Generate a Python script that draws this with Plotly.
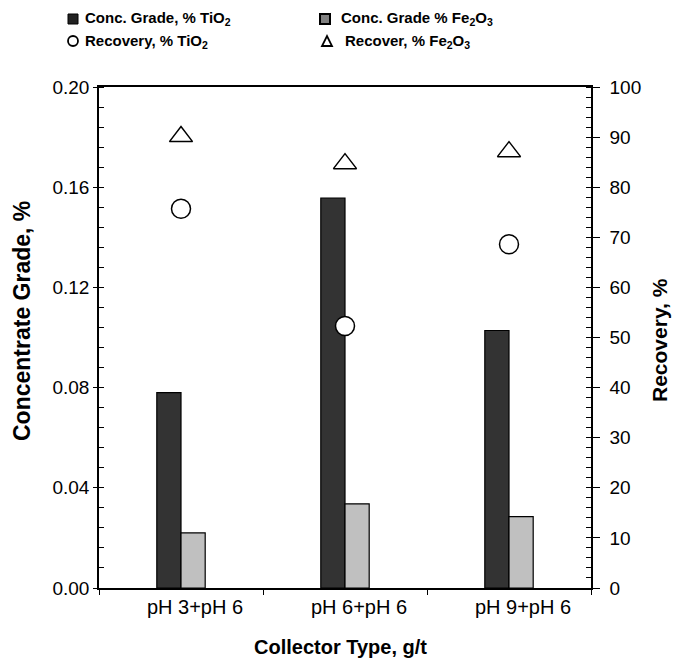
import plotly.graph_objects as go

categories = ["pH 3+pH 6", "pH 6+pH 6", "pH 9+pH 6"]
grade_tio2 = [0.078, 0.1556, 0.1028]
grade_fe2o3 = [0.022, 0.0336, 0.0285]
recovery_tio2 = [75.7, 52.3, 68.6]
recovery_fe2o3 = [90.1, 84.7, 87.1]
left_ticks = [0.00, 0.04, 0.08, 0.12, 0.16, 0.20]
right_ticks = list(range(0, 101, 10))

W, H = 674, 670
L, R, T, B = 99, 83, 87, 82
PW, PH = W - L - R, H - T - B
FONT = "Arial, Liberation Sans, sans-serif"

def px(x):
    return (x - L) / PW

def py(y):
    return (H - B - y) / PH

fig = go.Figure()
fig.add_trace(go.Bar(x=categories, y=grade_tio2, name="Conc. Grade, % TiO2",
                     marker=dict(color="#333333", line=dict(color="black", width=1.2)),
                     yaxis="y"))
fig.add_trace(go.Bar(x=categories, y=grade_fe2o3, name="Conc. Grade % Fe2O3",
                     marker=dict(color="#c0c0c0", line=dict(color="black", width=1.2)),
                     yaxis="y"))
fig.add_trace(go.Scatter(x=categories, y=recovery_tio2, mode="markers", name="Recovery, % TiO2",
                         marker=dict(symbol="circle", size=19, color="white",
                                     line=dict(color="black", width=1.5)),
                         yaxis="y2"))
fig.add_trace(go.Scatter(x=categories, y=recovery_fe2o3, mode="markers", name="Recover, % Fe2O3",
                         marker=dict(symbol="triangle-up", size=20, color="white",
                                     line=dict(color="black", width=1.5)),
                         yaxis="y2"))

annotations = []
shapes = []
legend_items = [
    (83, 19, "Conc. Grade, % TiO<sub>2</sub>"),
    (339, 19, "Conc. Grade % Fe<sub>2</sub>O<sub>3</sub>"),
    (83, 41, "Recovery, % TiO<sub>2</sub>"),
    (343, 41, "Recover, % Fe<sub>2</sub>O<sub>3</sub>"),
]
for x, y, t in legend_items:
    annotations.append(dict(x=px(x), y=py(y), xref="paper", yref="paper", text="<b>" + t + "</b>",
                            showarrow=False, xanchor="left", yanchor="middle",
                            font=dict(family=FONT, size=15, color="black")))
# axis titles
annotations.append(dict(x=px(340), y=py(647), xref="paper", yref="paper",
                        text="<b>Collector Type, g/t</b>", showarrow=False,
                        xanchor="center", yanchor="middle",
                        font=dict(family=FONT, size=20, color="black")))
annotations.append(dict(x=px(22), y=py(321), xref="paper", yref="paper",
                        text="<b>Concentrate Grade, %</b>", showarrow=False, textangle=-90,
                        xanchor="center", yanchor="middle",
                        font=dict(family=FONT, size=23, color="black")))
annotations.append(dict(x=px(659), y=py(340), xref="paper", yref="paper",
                        text="<b>Recovery, %</b>", showarrow=False, textangle=-90,
                        xanchor="center", yanchor="middle",
                        font=dict(family=FONT, size=21, color="black")))

# legend symbols
shapes.append(dict(type="rect", xref="paper", yref="paper", x0=px(68), x1=px(78), y0=py(14), y1=py(24),
                   fillcolor="#222222", line=dict(color="black", width=1)))
shapes.append(dict(type="rect", xref="paper", yref="paper", x0=px(320), x1=px(330), y0=py(14), y1=py(24),
                   fillcolor="#808080", line=dict(color="black", width=2)))
shapes.append(dict(type="circle", xref="paper", yref="paper", x0=px(68), x1=px(78), y0=py(36), y1=py(46),
                   fillcolor="white", line=dict(color="black", width=1.8)))
shapes.append(dict(type="path", xref="paper", yref="paper",
                   path=f"M {px(322)} {py(46)} L {px(332)} {py(46)} L {px(327)} {py(36)} Z",
                   fillcolor="white", line=dict(color="black", width=1.8)))

fig.update_layout(
    width=W, height=H,
    margin=dict(l=L, r=R, t=T, b=B, autoexpand=False),
    paper_bgcolor="white", plot_bgcolor="white",
    showlegend=False,
    barmode="group", bargap=0.705, bargroupgap=0,
    font=dict(family=FONT, size=16, color="black"),
    annotations=annotations,
    shapes=shapes,
    xaxis=dict(type="category", showline=True, linecolor="black", linewidth=1.5, mirror=True,
               ticks="outside", tickson="boundaries", ticklen=5, tickcolor="black",
               showgrid=False, zeroline=False, ticklabelstandoff=0, ticklabelshift=14,
               tickfont=dict(family=FONT, size=20)),
    yaxis=dict(range=[0, 0.2], tickvals=left_ticks, tickformat=".2f", showline=True,
               linecolor="black", linewidth=1.5, ticks="outside", ticklen=4, tickcolor="black",
               showgrid=False, zeroline=False, tickfont=dict(family=FONT, size=19),
               minor=dict(dtick=0.008, ticks="inside", ticklen=5, tickcolor="black", showgrid=False)),
    yaxis2=dict(range=[0, 100], tickvals=right_ticks, overlaying="y", side="right", showline=True,
                linecolor="black", linewidth=1.5, ticks="outside", ticklen=7, tickcolor="black",
                showgrid=False, zeroline=False, tickfont=dict(family=FONT, size=19),
                ticklabelstandoff=6,
                minor=dict(dtick=2, ticks="inside", ticklen=5, tickcolor="black", showgrid=False)),
    yaxis3=dict(range=[0, 0.2], tickvals=left_ticks, overlaying="y", side="left", showline=False,
                ticks="inside", ticklen=7, tickcolor="black", showticklabels=False,
                showgrid=False, zeroline=False),
    yaxis4=dict(range=[0, 100], tickvals=right_ticks, overlaying="y", side="right", showline=False,
                ticks="inside", ticklen=7, tickcolor="black", showticklabels=False,
                showgrid=False, zeroline=False),
)

fig.write_html("out.html", config={"displayModeBar": False},
               post_script="document.body.style.margin='0';")
